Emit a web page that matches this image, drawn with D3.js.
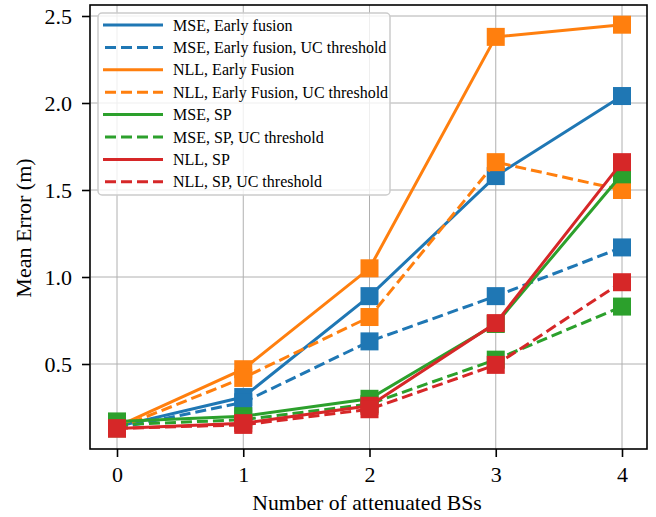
<!DOCTYPE html>
<html><head><meta charset="utf-8">
<script src="https://cdn.jsdelivr.net/npm/d3@7"></script>
<style>body{margin:0;background:#fff}svg{display:block}text{font-family:"Liberation Serif","DejaVu Serif",serif;fill:#000}</style>
</head><body><svg id="c" width="656" height="517"></svg>
<script>
const xValues = [0, 1, 2, 3, 4];
const xTicks = [0, 1, 2, 3, 4];
const yTicks = [0.5, 1.0, 1.5, 2.0, 2.5];
const seriesNames = ["MSE, Early fusion","MSE, Early fusion, UC threshold","NLL, Early Fusion","NLL, Early Fusion, UC threshold","MSE, SP","MSE, SP, UC threshold","NLL, SP","NLL, SP, UC threshold"];
const seriesColors = ["#1f77b4","#1f77b4","#ff7f0e","#ff7f0e","#2ca02c","#2ca02c","#d62728","#d62728"];
const seriesDashed = [false,true,false,true,false,true,false,true];
const mseEarly = [0.14, 0.31, 0.89, 1.58, 2.04];
const mseEarlyUC = [0.13, 0.28, 0.63, 0.89, 1.17];
const nllEarly = [0.14, 0.47, 1.05, 2.38, 2.45];
const nllEarlyUC = [0.13, 0.42, 0.77, 1.66, 1.50];
const mseSP = [0.17, 0.20, 0.30, 0.73, 1.59];
const mseSPUC = [0.15, 0.18, 0.27, 0.525, 0.83];
const nllSP = [0.13, 0.16, 0.26, 0.735, 1.66];
const nllSPUC = [0.13, 0.15, 0.24, 0.495, 0.97];
const seriesValues = [mseEarly, mseEarlyUC, nllEarly, nllEarlyUC, mseSP, mseSPUC, nllSP, nllSPUC];

const svg = d3.select("#c");
const L = 91, R = 647, T = 5, B = 449;
const x = d3.scaleLinear().domain([-0.2, 4.2]).range([91.75, 647.25]);
const y = d3.scaleLinear().domain([0.5, 2.5]).range([364, 16]);

// grid
const g = svg.append("g");
g.selectAll("line.gx").data(xTicks).join("line")
  .attr("x1", d => x(d)).attr("x2", d => x(d)).attr("y1", T).attr("y2", B)
  .attr("stroke", "#b0b0b0").attr("stroke-width", 1);
g.selectAll("line.gy").data(yTicks).join("line")
  .attr("y1", d => y(d)).attr("y2", d => y(d)).attr("x1", L).attr("x2", R)
  .attr("stroke", "#b0b0b0").attr("stroke-width", 1);

// series
const line = d3.line().x((d, i) => x(xValues[i])).y(d => y(d));
const ms = 18;
seriesValues.forEach((vals, si) => {
  const sg = svg.append("g");
  sg.append("path").attr("d", line(vals)).attr("fill", "none")
    .attr("stroke", seriesColors[si]).attr("stroke-width", 3)
    .attr("stroke-dasharray", seriesDashed[si] ? "11,5" : null);
  sg.selectAll("rect").data(vals).join("rect")
    .attr("x", (d, i) => x(xValues[i]) - ms / 2).attr("y", d => y(d) - ms / 2)
    .attr("width", ms).attr("height", ms).attr("fill", seriesColors[si]);
});

// axes
const xAxis = d3.axisBottom(x).tickValues(xTicks).tickFormat(d3.format("d")).tickSize(8).tickPadding(9);
const yAxis = d3.axisLeft(y).tickValues(yTicks).tickFormat(d3.format(".1f")).tickSize(8).tickPadding(10);
const ax = svg.append("g").attr("transform", `translate(0,${B})`).call(xAxis);
const ay = svg.append("g").attr("transform", `translate(${L - 1},0)`).call(yAxis);
[ax, ay].forEach(a => {
  a.select(".domain").remove();
  a.selectAll(".tick line").attr("stroke", "#000").attr("stroke-width", 1.6);
  a.selectAll(".tick text").attr("font-size", 22).attr("font-family", "Liberation Serif");
});
svg.append("rect").attr("x", L - 1).attr("y", T).attr("width", R - L + 1).attr("height", B - T)
  .attr("fill", "none").attr("stroke", "#000").attr("stroke-width", 1.6);

svg.append("text").attr("x", 367).attr("y", 510).attr("text-anchor", "middle")
  .attr("font-size", 21.7).text("Number of attenuated BSs");
svg.append("text").attr("transform", "translate(31,228) rotate(-90)").attr("text-anchor", "middle")
  .attr("font-size", 22).text("Mean Error (m)");

// legend
const lg = svg.append("g");
lg.append("rect").attr("x", 98).attr("y", 13).attr("width", 292).attr("height", 182).attr("rx", 4)
  .attr("fill", "#fff").attr("fill-opacity", 0.8).attr("stroke", "#cccccc").attr("stroke-width", 1.5);
seriesNames.forEach((name, i) => {
  const yy = 25 + i * 22.4;
  lg.append("line").attr("x1", 103).attr("x2", 163).attr("y1", yy).attr("y2", yy)
    .attr("stroke", seriesColors[i]).attr("stroke-width", 3)
    .attr("stroke-dasharray", seriesDashed[i] ? "11,5" : null).attr("stroke-dashoffset", seriesDashed[i] ? -2 : null);
  lg.append("text").attr("x", 173).attr("y", yy + 5.5).attr("font-size", 16).text(name);
});
</script></body></html>
